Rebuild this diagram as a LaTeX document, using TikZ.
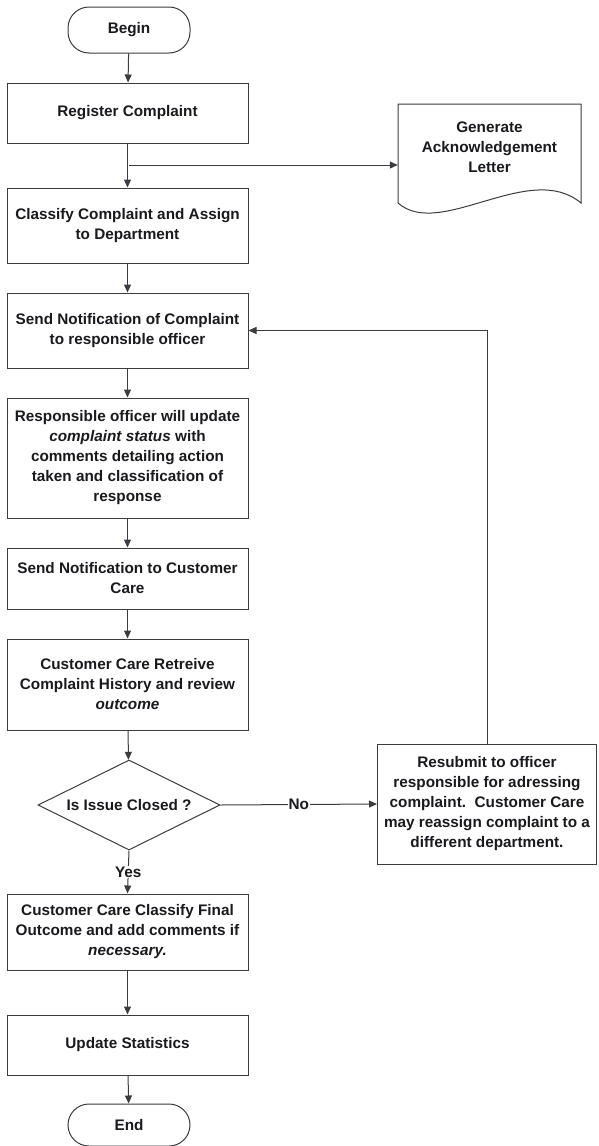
\documentclass[tikz,border=0pt]{standalone}
\usepackage{fontspec}
\setmainfont{Liberation Sans}
\usetikzlibrary{shapes.geometric,arrows.meta}
\definecolor{linec}{RGB}{60,60,64}
\definecolor{txt}{RGB}{25,25,30}
\begin{document}
\begin{tikzpicture}[x=1pt,y=-1pt,
  every node/.style={font=\bfseries\fontsize{15.3}{20}\selectfont, text=txt},
  box/.style={draw=linec, line width=1pt, minimum width=241pt, align=center, inner sep=0pt},
  term/.style={draw=linec, line width=1pt, rounded corners=21pt, minimum width=122pt, inner sep=0pt},
  dia/.style={draw=linec, line width=1pt, diamond, aspect=2, inner sep=0pt, minimum width=182pt, minimum height=90pt},
  arr/.style={draw=linec, line width=1pt, -{Triangle[length=8pt,width=7pt]}},
  ln/.style={draw=linec, line width=1pt},
  lbl/.style={fill=white, inner sep=1pt}]
\useasboundingbox (0,0) rectangle (598,1146);

\node[term, minimum height=46pt] (begin) at (129,30) {Begin};
\node[box, minimum height=60pt] (reg) at (127.5,113) {Register Complaint};
\node[box, minimum height=75pt] (cls) at (127.5,225.5) {Classify Complaint and Assign\\to Department};
\node[box, minimum height=75pt] (notif) at (127.5,330.5) {Send Notification of Complaint\\to responsible officer};
\node[box, minimum height=120pt] (resp) at (127.5,458) {Responsible officer will update\\\textit{complaint status} with\\comments detailing action\\taken and classification of\\response};
\node[box, minimum height=61pt] (ncc) at (127.5,578.5) {Send Notification to Customer\\Care};
\node[box, minimum height=91pt] (ccr) at (127.5,684.5) {Customer Care Retreive\\Complaint History and review\\\textit{outcome}};
\node[dia] (dec) at (129,805) {Is Issue Closed ?};
\node[box, minimum height=76pt] (cfo) at (127.5,932) {Customer Care Classify Final\\Outcome and add comments if\\\textit{necessary.}};
\node[box, minimum height=60pt] (upd) at (127.5,1045) {Update Statistics};
\node[term, minimum height=42pt] (end) at (129,1125) {End};
\node[box, minimum width=219pt, minimum height=120pt] (res) at (487,804) {Resubmit to officer\\responsible for adressing\\complaint.\ \ Customer Care\\may reassign complaint to a\\different department.};

% document shape
\node[align=center, inner sep=0pt, minimum width=183pt] (gen) at (489.5,147) {Generate\\Acknowledgement\\Letter};
\draw[ln] (398,104) -- (581,104) -- (581,203)
  .. controls (530,160) and (440,240) .. (398,203) -- cycle;

\coordinate (br) at (129,165);
\draw[arr] (begin) -- (reg);
\draw[arr] (reg) -- (cls);
\draw[arr] (br) -- (br -| gen.west);
\draw[arr] (cls) -- (notif);
\draw[arr] (notif) -- (resp);
\draw[arr] (resp) -- (ncc);
\draw[arr] (ncc) -- (ccr);
\draw[arr] (ccr) -- (dec);
\draw[arr] (dec.east) -- node[lbl]{No} (res.west);
\draw[arr] (dec.south) -- node[lbl]{Yes} (cfo.north);
\draw[arr] (cfo) -- (upd);
\draw[arr] (upd) -- (end);
\draw[arr] (res.north) -- (res.north |- notif.east) -- (notif.east);
\end{tikzpicture}
\end{document}
